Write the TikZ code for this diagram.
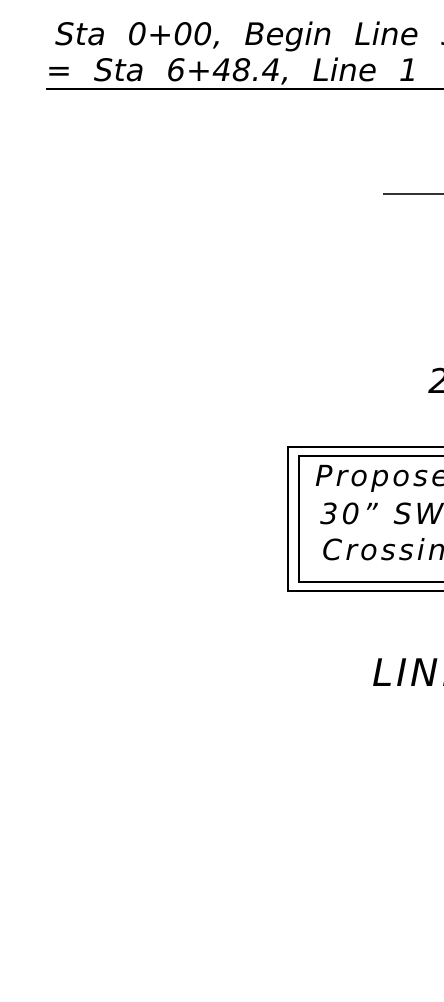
\documentclass[tikz,border=0pt]{standalone}
\usepackage{fontspec}
\setmainfont{DejaVu Sans}
\newfontfamily\cadfont[WordSpace=2.2]{DejaVu Sans}
\newfontfamily\cadboxfont[WordSpace=1.3, LetterSpace=10]{DejaVu Sans}
\newfontfamily\cadwidefont[LetterSpace=8]{DejaVu Sans}

\begin{document}
\begin{tikzpicture}[
    x=1pt, y=-1pt,
    every node/.style={inner sep=0pt, anchor=base west},
    big/.style={font=\cadfont\fontsize{31}{31}\selectfont\itshape},
    boxtext/.style={font=\cadboxfont\fontsize{29}{29}\selectfont\itshape},
]
  \useasboundingbox (0,0) rectangle (444,1002);
  \clip (0,0) rectangle (444,1002);
  \node [big]      (sta)  at  (55,45)   {Sta 0+00, Begin Line 5};
  \node [big]      (eq)   at  (46,81)   {= Sta 6+48.4, Line 1};
  \draw [line width=2pt]            (46,89)   -- (460,89);
  \draw [line width=1.3pt, black!80] (383,194) -- (460,194);
  \node [big, font=\cadfont\fontsize{34}{34}\selectfont\itshape] (two) at (428,393) {2};
  \draw [line width=1.5pt] (288,447) rectangle (520,591);
  \draw [line width=1.5pt] (299,456) rectangle (510,582);
  \node [boxtext]  (prop) at  (315,486) {Proposed};
  \node [boxtext]  (sws)  at  (320,524) {30” SWS};
  \node [boxtext]  (cros) at  (322,560) {Crossing};
  \node [big, font=\cadwidefont\fontsize{38}{38}\selectfont\itshape] (line) at (372,686) {LINE};
\end{tikzpicture}
\end{document}
